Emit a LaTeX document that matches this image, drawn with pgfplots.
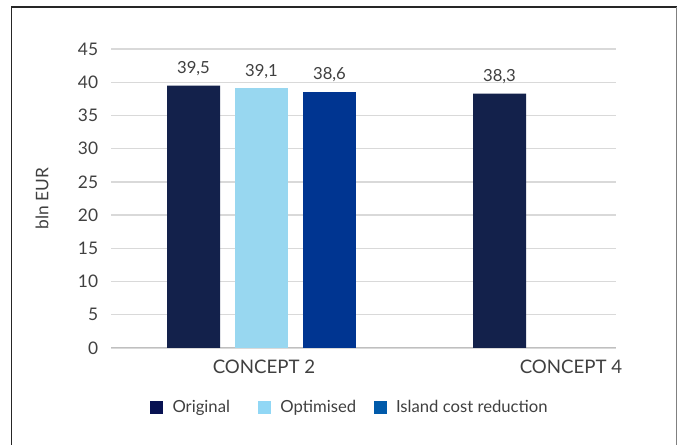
\documentclass[border=0pt]{standalone}
\usepackage{fontspec}
\setmainfont{Lato}
\usepackage{pgfplots}
\pgfplotsset{compat=1.18}

\definecolor{cOrig}{RGB}{19,33,75}
\definecolor{cOpt}{RGB}{152,215,240}
\definecolor{cIsl}{RGB}{0,53,145}
\definecolor{lOrig}{RGB}{8,18,82}
\definecolor{lOpt}{RGB}{145,215,245}
\definecolor{lIsl}{RGB}{0,90,170}
\definecolor{txt}{RGB}{64,64,64}
\definecolor{gridc}{RGB}{217,217,217}
\definecolor{basec}{RGB}{191,191,191}

\begin{document}
\begin{tikzpicture}
\useasboundingbox (0,0) rectangle (510.75pt,333.75pt);
\fill[white] (0,0) rectangle (510.75pt,333.75pt);
% frame around the chart
\draw[line width=1.1pt, color={rgb,255:red,38;green,38;blue,38}] (8.6pt,0) -- (8.6pt,328.5pt) -- (507.4pt,328.5pt);
\draw[line width=1.4pt, color={rgb,255:red,128;green,128;blue,128}] (507.4pt,328.5pt) -- (507.4pt,0);

\begin{axis}[
  at={(83.25pt,72.75pt)}, anchor=south west,
  scale only axis, width=378.75pt, height=224.25pt,
  xmin=111, xmax=616, ymin=0, ymax=45,
  ytick={0,5,...,45},
  xtick={264,571}, xticklabels={CONCEPT 2, CONCEPT 4},
  axis line style={draw=none},
  major tick length=0pt,
  ymajorgrids, grid style={color=gridc, line width=1pt},
  tick label style={text=txt},
  /pgf/number format/assume math mode=true,
  yticklabel style={font=\fontsize{13}{15}\selectfont, anchor=east, inner sep=0pt, xshift=-9.5pt},
  xticklabel style={font=\fontsize{14}{16}\selectfont, anchor=north, inner sep=0pt, yshift=-9pt},
  ylabel={bln EUR},
  ylabel style={at={(axis description cs:-0.1366,0.5)}, anchor=center,
    font=\fontsize{13}{15}\selectfont, text=txt},
  bar width=53,
  nodes near coords,
  every node near coord/.append style={font=\fontsize{12.5}{14}\selectfont,
    text=txt, anchor=south, inner sep=0pt, yshift=7pt,
    /pgf/number format/.cd, use comma, fixed, fixed zerofill, precision=1,
    assume math mode=true},
  legend columns=3,
  legend image code/.code={\fill[#1] (0pt,-4.5pt) rectangle (9pt,4.5pt);},
  legend style={at={(axis description cs:0.0772,-0.1973)}, anchor=west,
    draw=none, fill=none, inner sep=0pt, outer sep=0pt,
    font=\fontsize{12.5}{14}\selectfont, text=txt,
    nodes={inner sep=0pt, anchor=west},
    /tikz/every odd column/.append style={column sep=7.5pt}},
]
% baseline at zero
\draw[color=basec, line width=1.2pt] (axis cs:111,0) -- (axis cs:616,0);

\addplot[ybar, bar shift=0pt, fill=cOrig, draw=none, forget plot]
  coordinates {(193.5,39.5) (499.5,38.3)};
\addplot[ybar, bar shift=0pt, fill=cOpt, draw=none, forget plot]
  coordinates {(261.5,39.1)};
\addplot[ybar, bar shift=0pt, fill=cIsl, draw=none, forget plot]
  coordinates {(329.5,38.6)};

\addlegendimage{lOrig}
\addlegendentry{Original\hspace{21pt}\mbox{}}
\addlegendimage{lOpt}
\addlegendentry{Optimised\hspace{13pt}\mbox{}}
\addlegendimage{lIsl}
\addlegendentry{Island cost reduction}
\end{axis}
\end{tikzpicture}
\end{document}
